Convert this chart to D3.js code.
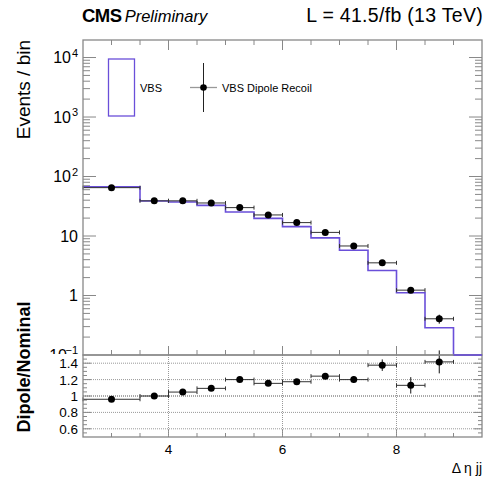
<!DOCTYPE html>
<html><head><meta charset="utf-8">
<script src="https://cdn.jsdelivr.net/npm/d3@7"></script>
<style>body{margin:0;background:#fff}svg{display:block;font-family:"Liberation Sans",Arial,sans-serif}</style>
</head><body><svg id="c" width="485" height="481"></svg>
<script>
// ---- data ----
const binEdges = [2.5,3.5,4.0,4.5,5.0,5.5,6.0,6.5,7.0,7.5,8.0,8.5,9.0,9.5];
const vbsNominal = [67,38.8,37.3,32.7,25.3,19.8,14.4,9.3,5.75,2.63,1.11,0.287,0];
const dipoleCenters = [3.0,3.75,4.25,4.75,5.25,5.75,6.25,6.75,7.25,7.75,8.25,8.75];
const dipoleValues = [65,39,39,35.9,30,22.6,16.8,11.5,6.8,3.54,1.23,0.406];
const dipoleErrors = [1.2,0.9,0.9,0.8,0.7,0.6,0.5,0.4,0.3,0.2,0.1,0.07];
const ratioValues = [0.96,1.0,1.048,1.093,1.20,1.154,1.174,1.242,1.20,1.376,1.13,1.416];
const ratioErrors = [0.01,0.012,0.014,0.016,0.018,0.02,0.025,0.03,0.04,0.07,0.1,0.14];
const xTicks = [4,6,8];
const ratioTicks = [0.6,0.8,1,1.2,1.4];
const logTicks = [1,10,100,1000,10000];

const svg = d3.select("#c");
const L=83,R=482,T=40,B1=355,B2=437;
const x = d3.scaleLinear([2.5,9.5],[L,R]);
const y = d3.scaleLog([0.1,19700],[B1,T]).clamp(true);
const yr = d3.scaleLinear([0.5,1.5],[B2,B1]);
const axisCol="#888", purple="#6a4fd9";

// titles
svg.append("text").attr("x",82).attr("y",22).attr("font-size",18.5).attr("font-weight","bold").attr("letter-spacing",-0.5).text("CMS")
  .append("tspan").attr("font-weight","normal").attr("font-style","italic").attr("font-size",16.5).attr("letter-spacing",0).attr("dx",3).text("Preliminary");
svg.append("text").attr("x",483).attr("y",22).attr("text-anchor","end").attr("font-size",19.5).attr("letter-spacing",0.3).text("L = 41.5/fb (13 TeV)");
svg.append("text").attr("transform","translate(30,40) rotate(-90)").attr("text-anchor","end").attr("font-size",19).text("Events / bin");
svg.append("text").attr("transform","translate(30,367) rotate(-90)").attr("text-anchor","middle").attr("font-size",18).attr("font-weight","bold").text("Dipole/Nominal");
svg.append("text").attr("x",482).attr("y",473).attr("text-anchor","end").attr("font-size",14).text("Δ η jj");

// clip for main labels
svg.append("clipPath").attr("id","mc").append("rect").attr("x",0).attr("y",0).attr("width",485).attr("height",B1-1);

// main y axis ticks
const gm = svg.append("g");
const minorLog=[];
for(let e=-1;e<=4;e++) for(let k=2;k<=9;k++){const v=k*Math.pow(10,e); if(v<=19700) minorLog.push(v);}
minorLog.forEach(v=>{
  gm.append("line").attr("x1",L).attr("x2",L+7).attr("y1",y(v)).attr("y2",y(v)).attr("stroke",axisCol);
  gm.append("line").attr("x1",R).attr("x2",R-7).attr("y1",y(v)).attr("y2",y(v)).attr("stroke",axisCol);
});
logTicks.forEach(v=>{
  gm.append("line").attr("x1",L).attr("x2",L+13).attr("y1",y(v)).attr("y2",y(v)).attr("stroke",axisCol);
  gm.append("line").attr("x1",R).attr("x2",R-13).attr("y1",y(v)).attr("y2",y(v)).attr("stroke",axisCol);
});
const lbl = [[10000,"10","4"],[1000,"10","3"],[100,"10","2"],[10,"10",null],[1,"1",null],[0.1,"10","−1"]];
const gl = svg.append("g").attr("clip-path","url(#mc)");
lbl.forEach(([v,b,s])=>{
  gl.append("text").attr("x",s? (s.length>1?67:71):78).attr("y",y(v)+5.5).attr("text-anchor","end").attr("font-size",16).text(b);
  if(s){ gl.append("text").attr("x",78).attr("y",y(v)-1).attr("text-anchor","end").attr("font-size",11).text(s); }
});

// x ticks (main bottom, top)
const xMinor = d3.range(3,9.01,0.5);
xMinor.forEach(v=>{
  const maj = xTicks.includes(v);
  gm.append("line").attr("x1",x(v)).attr("x2",x(v)).attr("y1",T).attr("y2",T+(maj?10:5)).attr("stroke",axisCol);
  gm.append("line").attr("x1",x(v)).attr("x2",x(v)).attr("y1",B1).attr("y2",B1-(maj?9:5)).attr("stroke",axisCol);
  gm.append("line").attr("x1",x(v)).attr("x2",x(v)).attr("y1",B2).attr("y2",B2-(maj?8:4)).attr("stroke",axisCol);
});

// ratio grid
ratioTicks.forEach(v=>{
  svg.append("line").attr("x1",L).attr("x2",R).attr("y1",yr(v)).attr("y2",yr(v)).attr("stroke",v===1?"#555":"#999").attr("stroke-width",1).attr("stroke-dasharray","1,1");
});
xTicks.forEach(v=>{
  svg.append("line").attr("x1",x(v)).attr("x2",x(v)).attr("y1",B1).attr("y2",B2).attr("stroke","#999").attr("stroke-dasharray","1,1");
});
// ratio y ticks
d3.range(0.55,1.5,0.05).forEach(v=>{
  const maj = ratioTicks.some(t=>Math.abs(t-v)<1e-6);
  svg.append("line").attr("x1",L).attr("x2",L+(maj?8:4)).attr("y1",yr(v)).attr("y2",yr(v)).attr("stroke",axisCol);
  svg.append("line").attr("x1",R).attr("x2",R-(maj?8:4)).attr("y1",yr(v)).attr("y2",yr(v)).attr("stroke",axisCol);
});
ratioTicks.forEach(v=>{
  svg.append("text").attr("x",78).attr("y",yr(v)+5).attr("text-anchor","end").attr("font-size",13.5).text(v);
});
xTicks.forEach(v=>{
  svg.append("text").attr("x",x(v)).attr("y",454).attr("text-anchor","middle").attr("font-size",13.5).text(v);
});

// histogram step
const pts=[];
vbsNominal.forEach((v,i)=>{ const yy = v>0? y(v): B1; pts.push([x(binEdges[i]),yy],[x(binEdges[i+1]),yy]); });
svg.append("path").attr("d",d3.line()(pts)).attr("fill","none").attr("stroke",purple).attr("stroke-width",1.6);

// main points
const hw = i => (binEdges[i+1]-binEdges[i])/2;
const gp = svg.append("g");
dipoleCenters.forEach((c,i)=>{
  const cy=y(dipoleValues[i]);
  gp.append("line").attr("x1",x(c-hw(i))).attr("x2",x(c+hw(i))).attr("y1",cy).attr("y2",cy).attr("stroke","#333").attr("stroke-width",1);
  [c-hw(i),c+hw(i)].forEach(e=>gp.append("line").attr("x1",x(e)).attr("x2",x(e)).attr("y1",cy-2).attr("y2",cy+2).attr("stroke","#333"));
  gp.append("line").attr("x1",x(c)).attr("x2",x(c)).attr("y1",y(dipoleValues[i]+dipoleErrors[i])).attr("y2",y(dipoleValues[i]-dipoleErrors[i])).attr("stroke","#111");
  gp.append("circle").attr("cx",x(c)).attr("cy",cy).attr("r",3.5).attr("fill","#000");
});
// ratio points
dipoleCenters.forEach((c,i)=>{
  const cy=yr(ratioValues[i]);
  gp.append("line").attr("x1",x(c-hw(i))).attr("x2",x(c+hw(i))).attr("y1",cy).attr("y2",cy).attr("stroke","#333");
  [c-hw(i),c+hw(i)].forEach(e=>gp.append("line").attr("x1",x(e)).attr("x2",x(e)).attr("y1",cy-2).attr("y2",cy+2).attr("stroke","#333"));
  gp.append("line").attr("x1",x(c)).attr("x2",x(c)).attr("y1",yr(ratioValues[i]+ratioErrors[i])).attr("y2",yr(ratioValues[i]-ratioErrors[i])).attr("stroke","#111");
  gp.append("circle").attr("cx",x(c)).attr("cy",cy).attr("r",3.5).attr("fill","#000");
});

// frames
svg.append("rect").attr("x",L).attr("y",T).attr("width",R-L).attr("height",B1-T).attr("fill","none").attr("stroke",axisCol).attr("stroke-width",1.3);
svg.append("rect").attr("x",L).attr("y",B1).attr("width",R-L).attr("height",B2-B1).attr("fill","none").attr("stroke",axisCol).attr("stroke-width",1.3);
svg.append("line").attr("x1",x(9.0)).attr("x2",x(9.5)).attr("y1",B1).attr("y2",B1).attr("stroke",purple).attr("stroke-width",1.6);

// legend
svg.append("rect").attr("x",108.5).attr("y",59).attr("width",26).attr("height",57).attr("fill","none").attr("stroke",purple).attr("stroke-width",1.3);
svg.append("text").attr("x",140).attr("y",92).attr("font-size",11).text("VBS");
svg.append("line").attr("x1",190).attr("x2",217).attr("y1",87.5).attr("y2",87.5).attr("stroke","#999").attr("stroke-width",1.3);
svg.append("line").attr("x1",203.5).attr("x2",203.5).attr("y1",63).attr("y2",112).attr("stroke","#222");
svg.append("circle").attr("cx",203.5).attr("cy",87.5).attr("r",3.3).attr("fill","#000");
svg.append("text").attr("x",222).attr("y",91.5).attr("font-size",11).text("VBS Dipole Recoil");
</script></body></html>
